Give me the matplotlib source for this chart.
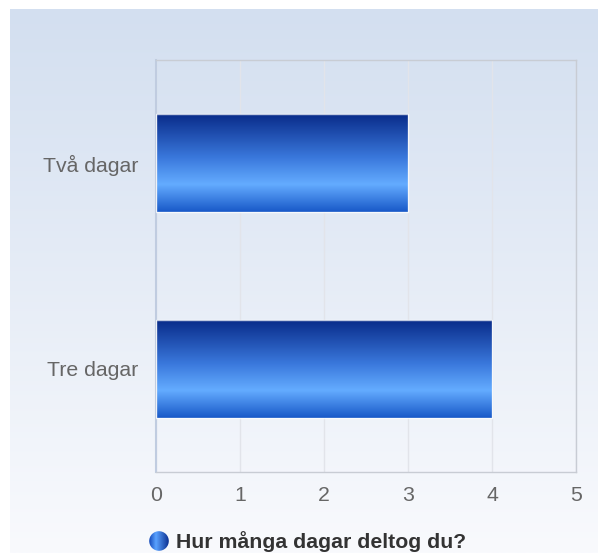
import numpy as np
import matplotlib
matplotlib.use("Agg")
import matplotlib.pyplot as plt
from matplotlib.colors import LinearSegmentedColormap
from matplotlib.patches import Circle

categories = ["Två dagar", "Tre dagar"]
values = [3, 4]
xticks = [0, 1, 2, 3, 4, 5]
legend_label = "Hur många dagar deltog du?"

W, H = 598, 553
plt.rcParams['font.family'] = ['Liberation Sans', 'DejaVu Sans']
fig = plt.figure(figsize=(W / 100, H / 100), dpi=100)
fig.patch.set_facecolor('white')

# background gradient panel
bg = fig.add_axes([10 / W, 0, (W - 10) / W, (H - 9) / H], zorder=-5)
bg_cmap = LinearSegmentedColormap.from_list('bg', ['#d3dff0', '#f9fafd'])
bg.imshow(np.linspace(0, 1, 256).reshape(-1, 1), cmap=bg_cmap, aspect='auto',
          extent=[0, 1, 0, 1], origin='upper')
bg.set_axis_off()

bar_cmap = LinearSegmentedColormap.from_list(
    'bar', [(0, '#082a88'), (0.45, '#3a78dc'), (0.72, '#64acff'), (1, '#1858c8')])

L, R, T, B = 156, 576, 60, 472
ax = fig.add_axes([L / W, 1 - B / H, (R - L) / W, (B - T) / H])
ax.patch.set_alpha(0)

ypos = np.arange(len(categories))
bars = ax.barh(ypos, values, height=0.48, facecolor='none',
               edgecolor=(1, 1, 1, 0.75), linewidth=1, zorder=3)
grad = np.linspace(0, 1, 256).reshape(-1, 1)
for b in bars:
    x0, y0 = b.get_x(), b.get_y()
    w, h = b.get_width(), b.get_height()
    im = ax.imshow(grad, cmap=bar_cmap, aspect='auto', zorder=2,
                   extent=[x0, x0 + w, y0 + h, y0], origin='upper')
    im.set_clip_path(b)

ax.set_xlim(0, 5)
ax.set_ylim(len(categories) - 0.5, -0.5)
ax.set_xticks(xticks)
ax.set_xticklabels([str(t) for t in xticks])
ax.set_yticks(ypos)
ax.set_yticklabels(categories)
ax.tick_params(axis='both', length=0, labelsize=15.3, colors='#666666')
ax.tick_params(axis='y', pad=13)
ax.tick_params(axis='x', pad=10)
ax.grid(axis='x', color='#e2e4ea', linewidth=1, zorder=0)
ax.set_axisbelow(True)
for s in ['top', 'right', 'bottom']:
    ax.spines[s].set_color('#c8ccd4')
    ax.spines[s].set_linewidth(1)
ax.spines['left'].set_color('#c0cce0')
ax.spines['left'].set_linewidth(1.5)

# legend marker
mx, my, mr = 159, 541, 10
lax = fig.add_axes([(mx - mr) / W, 1 - (my + mr) / H, 2 * mr / W, 2 * mr / H])
lax.set_xlim(-1, 1)
lax.set_ylim(-1, 1)
leg_cmap = LinearSegmentedColormap.from_list(
    'leg', [(0, '#1448b8'), (0.35, '#5aa2ff'), (1, '#0a2f90')])
lim = lax.imshow(np.linspace(0, 1, 256).reshape(1, -1), cmap=leg_cmap,
                 aspect='auto', extent=[-1, 1, -1, 1])
circ = Circle((0, 0), 0.98, transform=lax.transData)
lim.set_clip_path(circ)
lax.set_axis_off()

fig.text(176 / W, 1 - 542 / H, legend_label, fontsize=15.3, fontweight='bold',
         color='#333333', va='center', ha='left')

fig.savefig('out.png', dpi=100)
